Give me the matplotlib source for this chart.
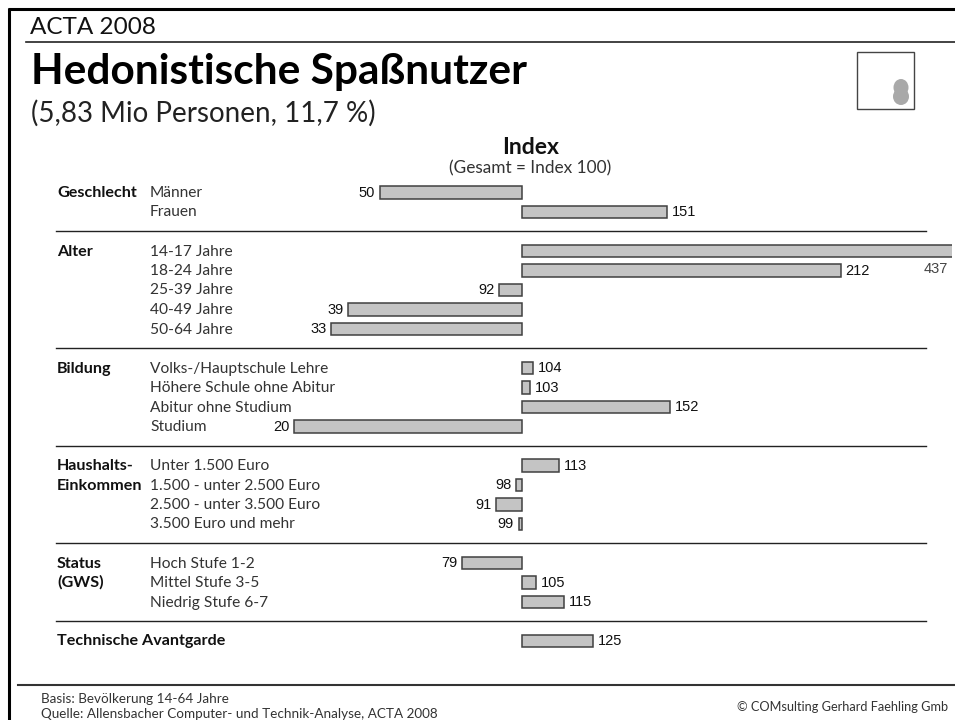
import matplotlib
matplotlib.use("Agg")
import matplotlib.pyplot as plt
from matplotlib.patches import Ellipse, Rectangle

plt.rcParams['font.family'] = ['Lato', 'DejaVu Sans']

W, H = 955, 720

# data
group_lines = ["Geschlecht", "Alter", "Bildung", "Haushalts-", "Einkommen", "Status", "(GWS)", "Technische Avantgarde"]
group_rows = [0, 3, 9, 14, 15, 19, 20, 23]
sep_rows = [2, 8, 13, 18, 22]
labels = ["Männer", "Frauen",
          "14-17 Jahre", "18-24 Jahre", "25-39 Jahre", "40-49 Jahre", "50-64 Jahre",
          "Volks-/Hauptschule Lehre", "Höhere Schule ohne Abitur", "Abitur ohne Studium", "Studium",
          "Unter 1.500 Euro", "1.500 - unter 2.500 Euro", "2.500 - unter 3.500 Euro", "3.500 Euro und mehr",
          "Hoch Stufe 1-2", "Mittel Stufe 3-5", "Niedrig Stufe 6-7",
          ""]
rows = [0, 1, 3, 4, 5, 6, 7, 9, 10, 11, 12, 14, 15, 16, 17, 19, 20, 21, 23]
values = [50, 151, 437, 212, 92, 39, 33, 104, 103, 152, 20, 113, 98, 91, 99, 79, 105, 115, 125]


def row_y(r):
    return 192.3 + 19.5 * r


fig = plt.figure(figsize=(W / 100, H / 100), dpi=100, facecolor="white")

# pixel layer for text and rules
ax = fig.add_axes([0, 0, 1, 1])
ax.set_xlim(0, W)
ax.set_ylim(H, 0)
ax.axis("off")

# bars, x axis in index units, 100 sits at x=521.8
right = 952
scale = 2.846
bx = fig.add_axes([0, 0, right / W, 1])
bx.set_xlim(100 - 521.8 / scale, 100 + (right - 521.8) / scale)
bx.set_ylim(H, 0)
bx.axis("off")
bx.patch.set_alpha(0)

ys = [row_y(r) for r in rows]
bx.barh(ys, [v - 100 for v in values], left=100, height=12.6,
        color="#c4c4c4", edgecolor="#404040", linewidth=1.1)

for y, v in zip(ys, values):
    if v == 437:
        continue
    if v >= 100:
        bx.annotate(str(v), (v, y + 4.5), xytext=(3.5, 0), textcoords="offset points", ha="left", va="baseline",
                    fontsize=10.5, family="Liberation Sans", color="#111111")
    else:
        bx.annotate(str(v), (v, y + 4.5), xytext=(-3.5, 0), textcoords="offset points", ha="right", va="baseline",
                    fontsize=10.5, family="Liberation Sans", color="#111111")
ax.text(936, 269, "437", ha="center", va="center", fontsize=10.5, family="Liberation Sans", color="#444444")

# frame
ax.plot([8.5, 8.5], [8, H], color="black", lw=2.2, solid_capstyle="butt")
ax.plot([8, W], [8.5, 8.5], color="black", lw=2.2, solid_capstyle="butt")
ax.plot([26, W], [42, 42], color="#222222", lw=1.2)
ax.plot([18, W], [685, 685], color="#333333", lw=1.5)

# header
ax.text(30, 27, "ACTA 2008", fontsize=17.5, va="center", color="#111111")
ax.text(31, 72, "Hedonistische Spaßnutzer", fontsize=30.5, weight="bold", va="center", color="black")
ax.text(31, 113, "(5,83 Mio Personen, 11,7 %)", fontsize=20, va="center", color="#222222")

# thumbnail
ax.add_patch(Rectangle((857, 52), 57, 57, fc="white", ec="#444444", lw=1))
ax.add_patch(Ellipse((901, 87.5), 15, 17, fc="#a9a9a9", ec="none"))
ax.add_patch(Ellipse((901, 96.5), 16, 17, fc="#a9a9a9", ec="none"))

# chart title
ax.text(530.5, 147, "Index", fontsize=16.5, weight="bold", ha="center", va="center", color="#111111")
ax.text(530.5, 168, "(Gesamt = Index 100)", fontsize=12.4, ha="center", va="center", color="#333333")

for g, r in zip(group_lines, group_rows):
    ax.text(57, row_y(r) + 4.7, g, fontsize=11.6, weight="bold", va="baseline", color="#111111")

for lab, r in zip(labels, rows):
    ax.text(150, row_y(r) + 4.7, lab, fontsize=11.2, va="baseline", color="#333333")

for r in sep_rows:
    ax.plot([56, 926], [row_y(r), row_y(r)], color="#222222", lw=1)

# footer
ax.text(41, 699, "Basis: Bevölkerung 14-64 Jahre", fontsize=9.7, va="center", color="#333333")
ax.text(41, 714, "Quelle: Allensbacher Computer- und Technik-Analyse, ACTA 2008", fontsize=9.7, va="center", color="#333333")
ax.text(737, 707, "© COMsulting Gerhard Faehling Gmb", fontsize=9.2, va="center", color="#333333")

fig.savefig("out.png", dpi=100)
